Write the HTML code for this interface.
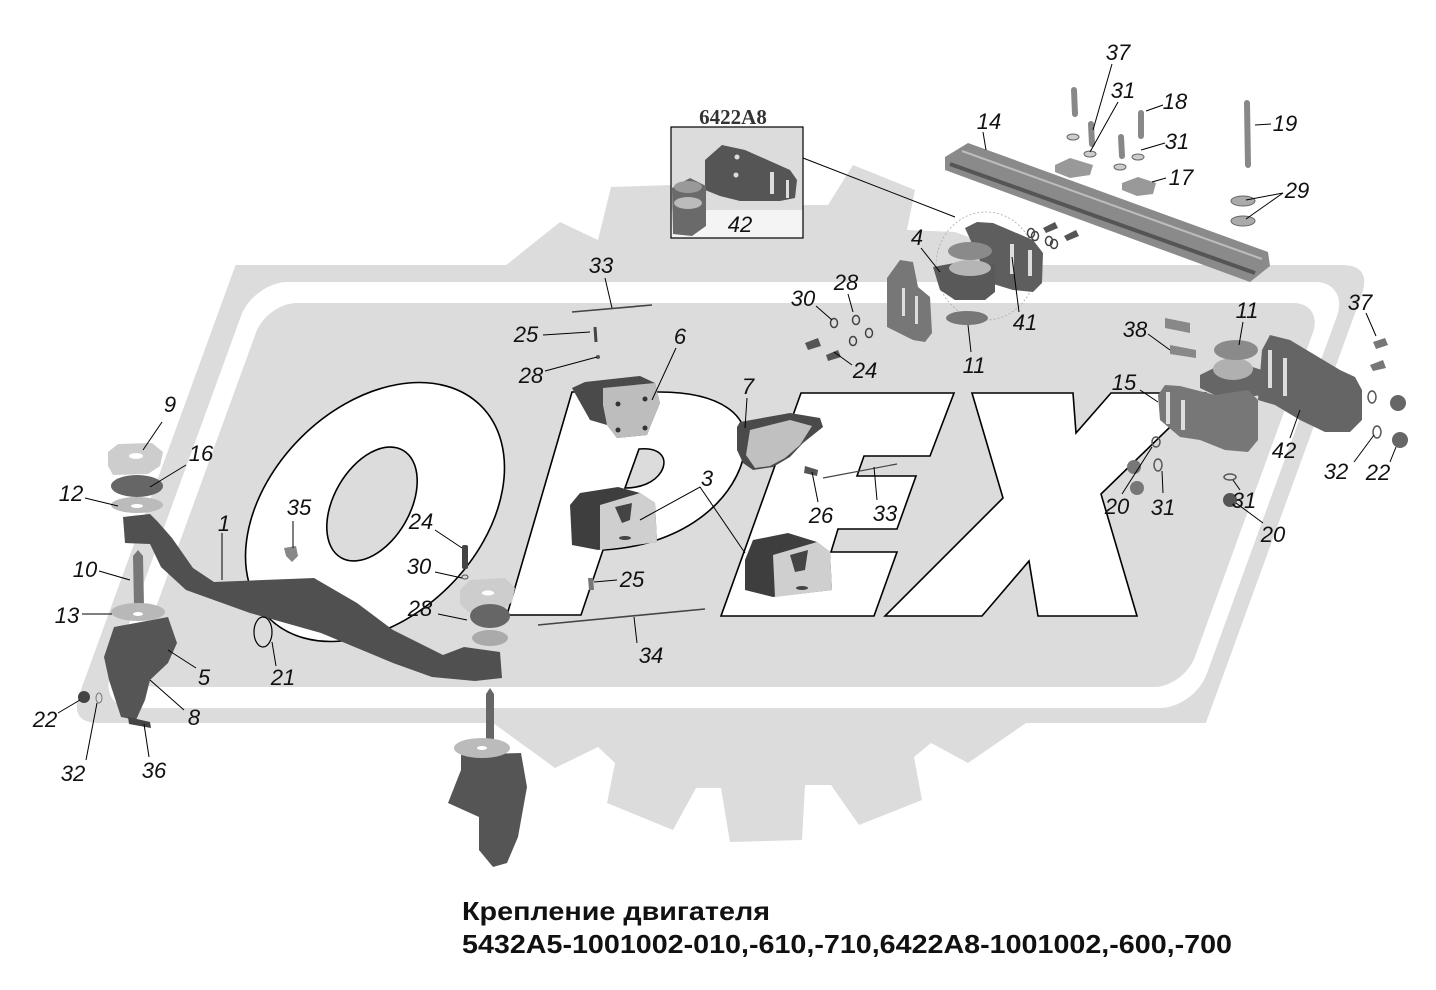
<!DOCTYPE html>
<html>
<head>
<meta charset="utf-8">
<style>
html,body{margin:0;padding:0;background:#fff;}
svg{display:block;}
.lbl{font-family:"Liberation Sans",sans-serif;font-style:italic;font-size:22px;fill:#111;text-anchor:middle;}
.ttl{font-family:"Liberation Sans","Noto Sans CJK SC",sans-serif;font-weight:bold;font-size:26px;fill:#111;}
</style>
</head>
<body>
<svg width="1436" height="990" viewBox="0 0 1436 990" xmlns="http://www.w3.org/2000/svg">
<rect width="1436" height="990" fill="#fff"/>
<polygon fill="#dcdcdc" points="505,266 560,222 598,240 611,187 671,185 675,140 800,140 803,205 828,205 853,165 915,190 907,230 955,232 1045,266 1150,500 1026,723 968,763 931,743 914,757 922,800 859,825 831,785 805,785 802,840 730,842 721,788 696,788 673,830 607,803 615,763 598,747 555,768 493,723 300,500"/>
<g transform="skewX(-20)">
<path fill="#dcdcdc" d="M332,265 L1438,265 Q1469,265 1469,296 L1469,723 L362,723 Q332,723 332,693 Z"/>
<rect x="356" y="282" width="1096" height="426" rx="34" ry="34" fill="#fff"/>
<rect x="377" y="303" width="1057" height="384" rx="30" ry="30" fill="#dcdcdc"/>
</g>
<g stroke="#000" stroke-width="1.6" fill="#fff">
<ellipse cx="375" cy="512" rx="150" ry="105" transform="rotate(-45 375 512)"/>
<ellipse cx="372" cy="504" rx="62" ry="38" transform="rotate(-60 372 504)" fill="#dcdcdc"/>
<path d="M572,392 L659,392 C720,392 752,415 745,450 C738,495 690,545 603,550 L581,615 L507,615 Z"/>
<path d="M639,449 C660,447 669,458 661,472 C654,483 640,488 625,488 Z" fill="#dcdcdc"/>
<path d="M801,393 L954,393 L930,456 L864,456 L857,476 L916,476 L897,529 L838,529 L831,552 L897,552 L874,616 L721,616 Z"/>
<path d="M972,393 L1073,393 L1076,433 L1111,393 L1205,393 L1101,494 L1137,616 L1038,616 L1029,561 L982,616 L885,616 L1003,498 Z"/>
</g>
<rect x="671" y="127" width="132" height="83" fill="#dcdcdc"/>
<rect x="671" y="210" width="132" height="28" fill="#f4f4f4"/>
<path d="M705,160 L722,145 L745,150 L790,170 L797,180 L795,198 L780,201 L740,201 L720,196 L705,190 Z" fill="#555"/>
<rect x="770" y="172" width="4" height="22" fill="#ddd"/>
<rect x="786" y="180" width="3" height="18" fill="#ddd"/>
<circle cx="737" cy="157" r="2.5" fill="#ddd"/>
<circle cx="736" cy="175" r="2.5" fill="#ddd"/>
<path d="M672,188 L690,178 L706,186 L706,226 L692,236 L673,234 Z" fill="#6a6a6a"/>
<ellipse cx="688" cy="187" rx="14" ry="6" fill="#999"/>
<ellipse cx="688" cy="203" rx="14" ry="6" fill="#bbb"/>
<rect x="671" y="127" width="132" height="111" fill="none" stroke="#000" stroke-width="1.2"/>
<text x="733" y="124" text-anchor="middle" font-family="'Liberation Serif',serif" font-weight="bold" font-size="21" fill="#333">6422A8</text>
<path d="M945,157 L968,143 L1268,252 L1270,266 L1250,282 L945,170 Z" fill="#8a8a8a"/>
<line x1="950" y1="164" x2="1255" y2="273" stroke="#555" stroke-width="4"/>
<line x1="962" y1="151" x2="1262" y2="259" stroke="#bdbdbd" stroke-width="2"/>
<g stroke="#888" stroke-width="6" stroke-linecap="round">
<line x1="1074" y1="90" x2="1075" y2="114"/>
<line x1="1091" y1="124" x2="1092" y2="144"/>
<line x1="1121" y1="137" x2="1122" y2="156"/>
<line x1="1141" y1="113" x2="1141" y2="136"/>
<line x1="1247" y1="103" x2="1248" y2="165"/>
</g>
<g fill="#ccc" stroke="#666" stroke-width="1">
<ellipse cx="1073" cy="137" rx="6" ry="3"/>
<ellipse cx="1090" cy="154" rx="6" ry="3"/>
<ellipse cx="1120" cy="167" rx="6" ry="3"/>
<ellipse cx="1138" cy="157" rx="6" ry="3"/>
<ellipse cx="1243" cy="201" rx="12" ry="5" fill="#aaa"/>
<ellipse cx="1243" cy="221" rx="12" ry="5" fill="#aaa"/>
</g>
<path d="M1055,165 L1070,158 L1093,165 L1090,175 L1070,178 L1055,172 Z" fill="#999"/>
<path d="M1122,183 L1138,177 L1156,183 L1153,194 L1137,196 L1122,190 Z" fill="#999"/>
<ellipse cx="986" cy="266" rx="50" ry="54" fill="none" stroke="#aaa" stroke-width="0.8" stroke-dasharray="2 2"/>
<path d="M965,228 L977,222 L993,223 L1033,240 L1043,253 L1042,283 L1033,292 L1013,290 L990,283 Z" fill="#5e5e5e"/>
<rect x="1010" y="244" width="4" height="30" fill="#ddd"/>
<rect x="1028" y="250" width="4" height="26" fill="#ddd"/>
<path d="M933,267 L960,262 L995,265 L995,292 L985,300 L955,300 L940,290 Z" fill="#595959"/>
<ellipse cx="970" cy="268" rx="21" ry="8" fill="#b5b5b5"/>
<ellipse cx="970" cy="251" rx="22" ry="9" fill="#8a8a8a"/>
<path d="M887,278 L900,260 L913,262 L918,287 L930,297 L932,333 L925,342 L913,340 L887,327 Z" fill="#777"/>
<rect x="902" y="288" width="3" height="28" fill="#ddd"/>
<rect x="915" y="296" width="3" height="28" fill="#ddd"/>
<ellipse cx="967" cy="318" rx="21" ry="7" fill="#777"/>
<g fill="none" stroke="#444" stroke-width="1.5">
<ellipse cx="1031" cy="233" rx="3.5" ry="4.5"/>
<ellipse cx="1035" cy="236" rx="3.5" ry="4.5"/>
<ellipse cx="1049" cy="241" rx="3.5" ry="4.5"/>
<ellipse cx="1054" cy="244" rx="3.5" ry="4.5"/>
<ellipse cx="834" cy="323" rx="3.5" ry="4.5"/>
<ellipse cx="856" cy="320" rx="3.5" ry="4.5"/>
<ellipse cx="869" cy="333" rx="3.5" ry="4.5"/>
<ellipse cx="853" cy="341" rx="3.5" ry="4.5"/>
</g>
<path d="M1043,228 L1055,222 L1058,228 L1046,233 Z" fill="#555"/>
<path d="M1064,236 L1076,230 L1079,236 L1067,241 Z" fill="#555"/>
<path d="M805,343 L818,338 L821,346 L808,350 Z" fill="#555"/>
<path d="M826,355 L838,350 L841,357 L828,361 Z" fill="#555"/>
<path d="M1262,350 L1270,335 L1290,340 L1340,370 L1355,377 L1362,390 L1362,420 L1350,432 L1325,432 L1300,420 L1275,405 L1258,400 Z" fill="#656565"/>
<rect x="1268" y="350" width="4" height="38" fill="#ddd"/>
<rect x="1283" y="358" width="4" height="38" fill="#ddd"/>
<path d="M1200,375 L1230,360 L1262,370 L1262,395 L1225,400 L1200,388 Z" fill="#666"/>
<ellipse cx="1233" cy="369" rx="20" ry="11" fill="#b0b0b0"/>
<ellipse cx="1236" cy="350" rx="22" ry="10" fill="#8a8a8a"/>
<path d="M1158,395 L1165,385 L1180,386 L1215,395 L1248,390 L1258,400 L1258,440 L1248,452 L1225,450 L1200,440 L1180,437 L1160,420 Z" fill="#777"/>
<rect x="1166" y="392" width="4" height="32" fill="#ddd"/>
<rect x="1181" y="400" width="4" height="30" fill="#ddd"/>
<path d="M1165,318 L1190,323 L1190,333 L1165,328 Z" fill="#888"/>
<path d="M1170,345 L1196,350 L1196,358 L1170,354 Z" fill="#888"/>
<path d="M1373,342 L1385,338 L1388,345 L1376,349 Z" fill="#777"/>
<path d="M1370,365 L1383,360 L1386,368 L1373,371 Z" fill="#777"/>
<g fill="none" stroke="#555" stroke-width="1.5">
<ellipse cx="1372" cy="397" rx="4" ry="6"/>
<ellipse cx="1377" cy="432" rx="4" ry="6"/>
<ellipse cx="1156" cy="442" rx="4" ry="5"/>
<ellipse cx="1158" cy="465" rx="4" ry="6"/>
<ellipse cx="1230" cy="477" rx="6" ry="3"/>
</g>
<circle cx="1398" cy="403" r="8" fill="#666"/>
<circle cx="1400" cy="440" r="8" fill="#666"/>
<circle cx="1134" cy="467" r="7" fill="#777"/>
<circle cx="1137" cy="488" r="7" fill="#777"/>
<circle cx="1230" cy="500" r="7" fill="#555"/>
<path d="M572,388 L585,382 L640,376 L655,383 L660,403 L650,427 L647,435 L617,438 L607,425 L590,420 Z" fill="#4a4a4a"/>
<path d="M603,388 L655,383 L660,403 L650,427 L647,435 L617,438 L607,425 L603,405 Z" fill="#bdbdbd"/>
<g fill="#333"><circle cx="618" cy="404" r="2.5"/><circle cx="645" cy="399" r="2.5"/><circle cx="618" cy="430" r="2.5"/><circle cx="645" cy="428" r="2.5"/></g>
<path d="M737,427 L740,422 L790,413 L820,418 L823,427 L803,443 L790,457 L773,467 L753,470 L743,463 L737,450 Z" fill="#4a4a4a"/>
<path d="M750,430 L790,420 L812,426 L800,445 L785,458 L770,466 L755,468 L746,455 Z" fill="#c0c0c0"/>
<path d="M570,505 L580,493 L618,487 L640,493 L655,503 L657,542 L598,550 L572,545 Z" fill="#3e3e3e"/>
<path d="M600,505 L640,493 L655,503 L657,542 L600,550 Z" fill="#cfcfcf"/>
<path d="M615,507 L632,503 L630,520 L622,523 Z" fill="#444"/>
<ellipse cx="625" cy="538" rx="6" ry="2" fill="#444"/>
<path d="M745,560 L753,540 L788,533 L817,542 L830,552 L832,590 L773,597 L745,590 Z" fill="#3e3e3e"/>
<path d="M773,555 L817,542 L830,552 L832,590 L775,597 Z" fill="#cfcfcf"/>
<path d="M790,555 L808,550 L805,570 L795,572 Z" fill="#444"/>
<ellipse cx="802" cy="588" rx="6" ry="2" fill="#444"/>
<path d="M805,466 L818,470 L817,476 L804,473 Z" fill="#555"/>
<line x1="595" y1="327" x2="596" y2="342" stroke="#444" stroke-width="3"/>
<circle cx="598" cy="357" r="2" fill="#555"/>
<path d="M588,578 L593,578 L594,590 L589,590 Z" fill="#777"/>
<path d="M284,548 L296,546 L298,556 L292,562 L286,556 Z" fill="#888"/>
<line x1="572" y1="312" x2="652" y2="305" stroke="#444" stroke-width="1.6"/>
<line x1="538" y1="625" x2="705" y2="609" stroke="#444" stroke-width="1.6"/>
<line x1="823" y1="478" x2="897" y2="464" stroke="#444" stroke-width="1.2"/>
<path d="M123,517 L150,514 L158,522 L172,538 L193,568 L214,582 L314,578 L357,603 L393,630 L443,655 L464,647 L500,652 L502,678 L475,681 L432,677 L393,663 L321,633 L250,613 L186,590 L161,567 L150,544 L125,543 Z" fill="#505050"/>
<ellipse cx="263" cy="632" rx="9" ry="15" fill="none" stroke="#000" stroke-width="1.2"/>
<path d="M108,452 L118,444 L152,443 L163,452 L160,466 L148,474 L113,475 L108,466 Z" fill="#cdcdcd"/>
<ellipse cx="136" cy="456" rx="7" ry="3" fill="#fff"/>
<ellipse cx="137" cy="486" rx="26" ry="11" fill="#666"/>
<ellipse cx="137" cy="505" rx="26" ry="8" fill="#bbb"/>
<ellipse cx="137" cy="506" rx="6" ry="2" fill="#fff"/>
<path d="M133,556 L138,550 L143,556 L144,606 L134,606 Z" fill="#777"/>
<path d="M104,657 L114,627 L168,617 L177,643 L168,663 L150,680 L145,700 L136,720 L121,717 L109,680 Z" fill="#555"/>
<ellipse cx="138" cy="612" rx="27" ry="9" fill="#b8b8b8"/>
<ellipse cx="138" cy="614" rx="5" ry="2" fill="#fff"/>
<path d="M128,717 L150,722 L151,728 L129,724 Z" fill="#444"/>
<circle cx="84" cy="697" r="6" fill="#444"/>
<ellipse cx="99" cy="698" rx="3" ry="5" fill="none" stroke="#777" stroke-width="1"/>
<rect x="462" y="545" width="6" height="24" rx="2" fill="#444"/>
<ellipse cx="465" cy="577" rx="3" ry="2" fill="none" stroke="#555"/>
<path d="M460,590 L470,580 L505,578 L515,588 L512,602 L500,612 L468,612 L460,604 Z" fill="#cdcdcd"/>
<ellipse cx="488" cy="593" rx="6" ry="2.5" fill="#fff"/>
<ellipse cx="490" cy="616" rx="20" ry="12" fill="#666"/>
<ellipse cx="490" cy="638" rx="18" ry="8" fill="#aaa"/>
<path d="M486,694 L490,688 L494,694 L494,745 L486,745 Z" fill="#666"/>
<path d="M461,755 L521,753 L527,787 L518,837 L507,863 L493,867 L479,850 L479,817 L448,803 L461,770 Z" fill="#555"/>
<ellipse cx="482" cy="748" rx="28" ry="10" fill="#bbb"/>
<ellipse cx="482" cy="748" rx="5" ry="2" fill="#fff"/>
<g stroke="#000" stroke-width="1" fill="none">
<line x1="803" y1="158" x2="955" y2="217"/>
<line x1="1112" y1="64" x2="1093" y2="130"/>
<line x1="1118" y1="102" x2="1090" y2="152"/>
<line x1="1163" y1="105" x2="1146" y2="111"/>
<line x1="1165" y1="143" x2="1141" y2="150"/>
<line x1="983" y1="132" x2="986" y2="150"/>
<line x1="1271" y1="124" x2="1255" y2="125"/>
<line x1="1166" y1="178" x2="1152" y2="182"/>
<polyline points="1246,200 1283,193 1246,219"/>
<line x1="921" y1="248" x2="940" y2="272"/>
<line x1="1019" y1="312" x2="1012" y2="257"/>
<line x1="971" y1="352" x2="968" y2="325"/>
<line x1="848" y1="294" x2="853" y2="312"/>
<line x1="816" y1="306" x2="832" y2="320"/>
<line x1="852" y1="365" x2="834" y2="352"/>
<line x1="605" y1="278" x2="612" y2="308"/>
<line x1="543" y1="335" x2="590" y2="332"/>
<line x1="545" y1="371" x2="597" y2="357"/>
<line x1="676" y1="348" x2="652" y2="400"/>
<line x1="747" y1="398" x2="745" y2="428"/>
<polyline points="640,520 700,487 745,553"/>
<line x1="818" y1="502" x2="812" y2="472"/>
<line x1="877" y1="500" x2="874" y2="467"/>
<line x1="617" y1="580" x2="594" y2="582"/>
<line x1="637" y1="643" x2="634" y2="617"/>
<line x1="1243" y1="322" x2="1239" y2="345"/>
<line x1="1148" y1="334" x2="1170" y2="350"/>
<line x1="1140" y1="390" x2="1158" y2="402"/>
<line x1="1366" y1="313" x2="1376" y2="336"/>
<line x1="1290" y1="438" x2="1300" y2="410"/>
<line x1="1354" y1="462" x2="1374" y2="435"/>
<line x1="1390" y1="462" x2="1396" y2="447"/>
<line x1="1122" y1="494" x2="1152" y2="447"/>
<line x1="1163" y1="493" x2="1162" y2="471"/>
<line x1="1240" y1="490" x2="1233" y2="480"/>
<line x1="1263" y1="523" x2="1236" y2="503"/>
<line x1="162" y1="422" x2="143" y2="450"/>
<line x1="186" y1="465" x2="150" y2="487"/>
<line x1="85" y1="498" x2="118" y2="506"/>
<line x1="222" y1="533" x2="222" y2="580"/>
<line x1="293" y1="521" x2="293" y2="548"/>
<line x1="435" y1="530" x2="462" y2="548"/>
<line x1="435" y1="572" x2="462" y2="578"/>
<line x1="438" y1="614" x2="467" y2="620"/>
<line x1="99" y1="571" x2="130" y2="580"/>
<line x1="82" y1="614" x2="112" y2="614"/>
<line x1="196" y1="668" x2="168" y2="650"/>
<line x1="276" y1="666" x2="272" y2="642"/>
<line x1="184" y1="710" x2="150" y2="680"/>
<line x1="58" y1="713" x2="80" y2="700"/>
<line x1="86" y1="760" x2="97" y2="703"/>
<line x1="149" y1="757" x2="144" y2="724"/>
</g>
<g class="lbl">
<text x="1118" y="60">37</text>
<text x="1123" y="98">31</text>
<text x="1175" y="109">18</text>
<text x="1177" y="149">31</text>
<text x="989" y="129">14</text>
<text x="1285" y="131">19</text>
<text x="1181" y="185">17</text>
<text x="1297" y="198">29</text>
<text x="740" y="232">42</text>
<text x="917" y="245">4</text>
<text x="1025" y="330">41</text>
<text x="974" y="373">11</text>
<text x="846" y="290">28</text>
<text x="803" y="306">30</text>
<text x="865" y="378">24</text>
<text x="601" y="273">33</text>
<text x="526" y="342">25</text>
<text x="531" y="383">28</text>
<text x="680" y="344">6</text>
<text x="748" y="394">7</text>
<text x="707" y="486">3</text>
<text x="821" y="523">26</text>
<text x="885" y="521">33</text>
<text x="632" y="587">25</text>
<text x="651" y="663">34</text>
<text x="1247" y="318">11</text>
<text x="1135" y="337">38</text>
<text x="1124" y="390">15</text>
<text x="1360" y="310">37</text>
<text x="1284" y="458">42</text>
<text x="1336" y="479">32</text>
<text x="1378" y="480">22</text>
<text x="1117" y="514">20</text>
<text x="1163" y="515">31</text>
<text x="1244" y="508">31</text>
<text x="1273" y="542">20</text>
<text x="170" y="412">9</text>
<text x="201" y="461">16</text>
<text x="71" y="501">12</text>
<text x="224" y="531">1</text>
<text x="299" y="515">35</text>
<text x="421" y="529">24</text>
<text x="419" y="574">30</text>
<text x="420" y="616">28</text>
<text x="85" y="577">10</text>
<text x="67" y="623">13</text>
<text x="204" y="685">5</text>
<text x="283" y="685">21</text>
<text x="194" y="725">8</text>
<text x="45" y="727">22</text>
<text x="73" y="781">32</text>
<text x="154" y="778">36</text>
</g>
<text class="ttl" x="462" y="920" textLength="308" lengthAdjust="spacingAndGlyphs">Крепление двигателя</text>
<text class="ttl" x="462" y="953" textLength="770" lengthAdjust="spacingAndGlyphs">5432A5-1001002-010,-610,-710,6422A8-1001002,-600,-700</text>
</svg>
</body>
</html>
